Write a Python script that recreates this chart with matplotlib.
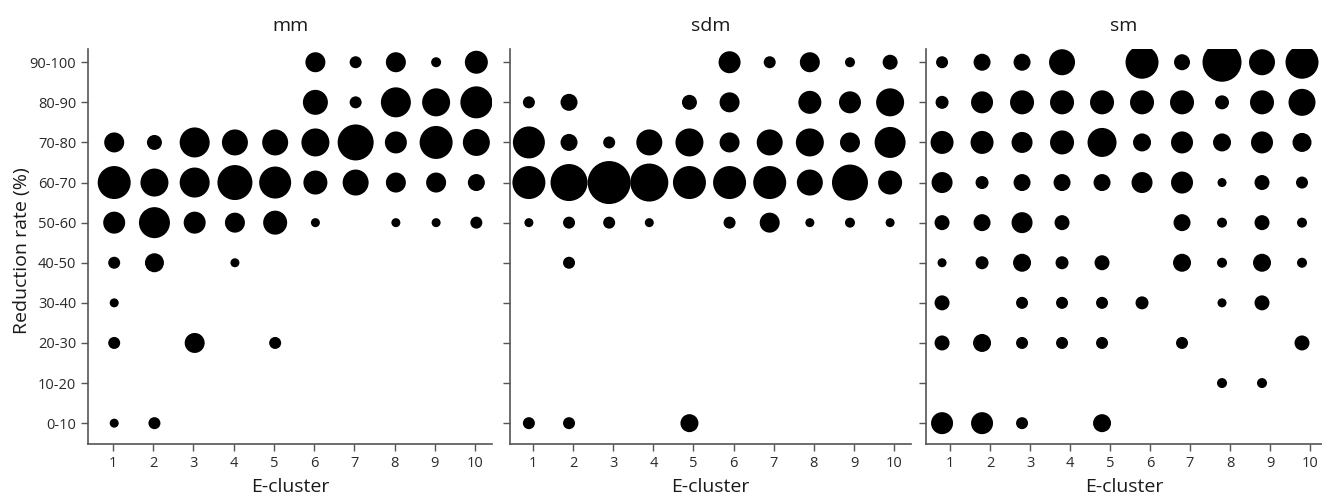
import numpy as np
import matplotlib
matplotlib.use('Agg')
import matplotlib.pyplot as plt

plt.rcParams['font.family'] = ['Open Sans', 'DejaVu Sans']

# categories
clusters = [1, 2, 3, 4, 5, 6, 7, 8, 9, 10]
rate_labels = ['0-10', '10-20', '20-30', '30-40', '40-50',
               '50-60', '60-70', '70-80', '80-90', '90-100']
panel_names = ['mm', 'sdm', 'sm']

# bubble sizes (dot diameter, px), rows = 0-10 ... 90-100
mm = [
    [9, 12, 0, 0, 0, 0, 0, 0, 0, 0],
    [0, 0, 0, 0, 0, 0, 0, 0, 0, 0],
    [12, 0, 20, 0, 12, 0, 0, 0, 0, 0],
    [9, 0, 0, 0, 0, 0, 0, 0, 0, 0],
    [12, 19, 0, 9, 0, 0, 0, 0, 0, 0],
    [22, 31, 22, 20, 24, 9, 0, 9, 9, 12],
    [33, 28, 30, 35, 32, 24, 26, 20, 20, 17],
    [20, 15, 30, 26, 26, 28, 36, 22, 33, 27],
    [0, 0, 0, 0, 0, 25, 12, 30, 28, 32],
    [0, 0, 0, 0, 0, 20, 12, 20, 10, 23],
]
sdm = [
    [12, 12, 0, 0, 18, 0, 0, 0, 0, 0],
    [0, 0, 0, 0, 0, 0, 0, 0, 0, 0],
    [0, 0, 0, 0, 0, 0, 0, 0, 0, 0],
    [0, 0, 0, 0, 0, 0, 0, 0, 0, 0],
    [0, 12, 0, 0, 0, 0, 0, 0, 0, 0],
    [9, 12, 12, 9, 0, 12, 20, 9, 10, 9],
    [33, 37, 43, 38, 33, 33, 33, 26, 36, 24],
    [32, 17, 12, 26, 28, 20, 26, 28, 20, 31],
    [12, 17, 0, 0, 15, 20, 0, 23, 22, 28],
    [0, 0, 0, 0, 0, 22, 12, 20, 10, 15],
]
sm = [
    [22, 22, 12, 0, 18, 0, 0, 0, 0, 0],
    [0, 0, 0, 0, 0, 0, 0, 10, 10, 0],
    [15, 18, 12, 12, 12, 0, 12, 0, 0, 15],
    [15, 0, 12, 12, 12, 13, 0, 9, 15, 0],
    [9, 13, 18, 13, 15, 0, 18, 10, 18, 10],
    [15, 17, 21, 15, 0, 0, 17, 10, 15, 10],
    [21, 13, 17, 17, 17, 21, 22, 9, 15, 12],
    [23, 23, 21, 24, 29, 18, 22, 18, 22, 19],
    [13, 22, 24, 24, 24, 24, 24, 14, 24, 27],
    [12, 17, 17, 26, 0, 33, 16, 39, 26, 33],
]
panels = [mm, sdm, sm]

fig = plt.figure(figsize=(13.22, 4.98), dpi=100)
positions = [[0.0666, 0.1084, 0.3056, 0.7932],
             [0.3858, 0.1084, 0.3033, 0.7932],
             [0.7005, 0.1084, 0.2995, 0.7932]]
xlims = [(0.38, 10.42), (0.43, 10.42), (0.40, 10.30)]
shifts = [0.03, -0.1, -0.2]

for k, name in enumerate(panel_names):
    ax = fig.add_axes(positions[k])
    vals = np.array(panels[k], dtype=float)
    yy, xx = np.nonzero(vals)
    d = vals[yy, xx]
    xs = np.array(clusters)[xx] + shifts[k]
    ax.scatter(xs, yy, s=(d * 0.72) ** 2, c='black', edgecolors='none', zorder=3)

    ax.set_xlim(*xlims[k])
    ax.set_ylim(-0.52, 9.33)
    ax.set_xticks(clusters)
    ax.set_xticklabels([str(c) for c in clusters])
    ax.set_yticks(range(len(rate_labels)))
    if k == 0:
        ax.set_yticklabels(rate_labels)
        ax.set_ylabel('Reduction rate (%)', fontsize=14, color='#1a1a1a')
        ax.yaxis.set_label_coords(-0.14, 0.49)
    else:
        ax.set_yticklabels([])
    ax.set_xlabel('E-cluster', fontsize=14, color='#1a1a1a', labelpad=5)
    ax.set_title(name, fontsize=14, color='#1a1a1a', pad=13)

    for side in ['top', 'right']:
        ax.spines[side].set_visible(False)
    for side in ['left', 'bottom']:
        ax.spines[side].set_color('#555555')
        ax.spines[side].set_linewidth(1.2)
    ax.tick_params(axis='both', direction='out', length=5, width=1.0,
                   color='#555555', labelsize=10.5, labelcolor='#2a2a2a')

fig.savefig('out.png', dpi=100)
